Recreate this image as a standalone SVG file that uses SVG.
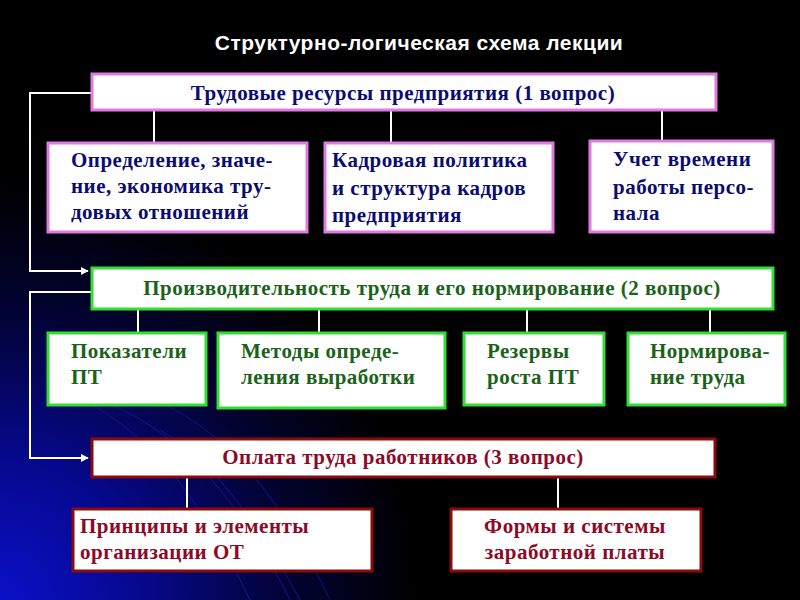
<svg xmlns="http://www.w3.org/2000/svg" width="800" height="600" viewBox="0 0 800 600">
<defs>
<radialGradient id="bg" cx="0" cy="600" r="420" gradientUnits="userSpaceOnUse">
<stop offset="0" stop-color="#0a10c8"/>
<stop offset="0.35" stop-color="#06088a"/>
<stop offset="0.7" stop-color="#020330"/>
<stop offset="1" stop-color="#000000"/>
</radialGradient>
<marker id="arr" viewBox="0 0 10 10" refX="9" refY="5" markerWidth="4" markerHeight="4" orient="auto" markerUnits="strokeWidth">
<path d="M0,0 L10,5 L0,10 z" fill="#ffffff"/>
</marker>
<style>
.t1,.t2,.t3{font-family:"Liberation Serif","Times New Roman",serif;font-weight:bold;font-size:21px;letter-spacing:0.5px}
.t1{fill:#0c0c70}
.t2{fill:#1a621a}
.t3{fill:#8c0a28}
.b1{fill:#ffffff;stroke:#e07ae0;stroke-width:3}
.b2{fill:#ffffff;stroke:#33dd33;stroke-width:3}
.b3{fill:#ffffff;stroke:#8b0a0a;stroke-width:3}
.c{fill:none;stroke:#ffffff;stroke-width:2}
</style>
</defs>
<rect width="800" height="600" fill="#000"/>
<rect width="800" height="600" fill="url(#bg)"/>
<g fill="none" stroke="#1a1aa0" stroke-width="1.2" opacity="0.6">
<path d="M60,390 Q170,430 250,600"/>
<path d="M100,400 Q210,440 290,600"/>
<path d="M140,395 Q250,430 330,600"/>
<path d="M160,430 Q230,470 300,600"/>
</g>
<text x="419" y="50" text-anchor="middle" font-family="Liberation Sans, Arial, sans-serif" font-weight="bold" font-size="21" letter-spacing="0.5" fill="#ffffff">Структурно-логическая схема лекции</text>
<g id="connectors">
<path class="c" d="M92,93 H30 V271 H88" marker-end="url(#arr)"/>
<path class="c" d="M92,292 H30 V458 H88" marker-end="url(#arr)"/>
<path class="c" d="M154,110 V143 M391,110 V143 M662,110 V141"/>
<path class="c" d="M138,309 V333 M319,309 V333 M527,309 V333 M710,309 V333"/>
<path class="c" d="M187,477 V509 M558,477 V509"/>
</g>
<g id="q1">
<rect class="b1" x="92" y="74" width="624" height="36"/>
<text class="t1" x="403" y="100" text-anchor="middle">Трудовые ресурсы предприятия (1 вопрос)</text>
</g>
<g id="q1a">
<rect class="b1" x="48" y="143" width="259" height="89"/>
<text class="t1" x="71" y="167">Определение, значе-</text>
<text class="t1" x="71" y="193">ние, экономика тру-</text>
<text class="t1" x="71" y="219">довых отношений</text>
</g>
<g id="q1b">
<rect class="b1" x="325" y="143" width="228" height="89"/>
<text class="t1" x="332" y="167">Кадровая политика</text>
<text class="t1" x="332" y="195">и структура кадров</text>
<text class="t1" x="332" y="222">предприятия</text>
</g>
<g id="q1c">
<rect class="b1" x="590" y="141" width="183" height="91"/>
<text class="t1" x="613" y="166">Учет времени</text>
<text class="t1" x="613" y="194">работы персо-</text>
<text class="t1" x="613" y="220">нала</text>
</g>
<g id="q2">
<rect class="b2" x="92" y="268" width="681" height="41"/>
<text class="t2" x="432" y="295" text-anchor="middle">Производительность труда и его нормирование (2 вопрос)</text>
</g>
<g id="q2a">
<rect class="b2" x="48" y="333" width="158" height="72"/>
<text class="t2" x="71" y="358">Показатели</text>
<text class="t2" x="71" y="384">ПТ</text>
</g>
<g id="q2b">
<rect class="b2" x="218" y="333" width="227" height="75"/>
<text class="t2" x="241" y="358">Методы опреде-</text>
<text class="t2" x="241" y="384">ления выработки</text>
</g>
<g id="q2c">
<rect class="b2" x="464" y="333" width="140" height="72"/>
<text class="t2" x="487" y="358">Резервы</text>
<text class="t2" x="487" y="384">роста ПТ</text>
</g>
<g id="q2d">
<rect class="b2" x="628" y="333" width="157" height="72"/>
<text class="t2" x="650" y="358">Нормирова-</text>
<text class="t2" x="650" y="384">ние труда</text>
</g>
<g id="q3">
<rect class="b3" x="92" y="439" width="623" height="38"/>
<text class="t3" x="403" y="464" text-anchor="middle">Оплата труда работников (3 вопрос)</text>
</g>
<g id="q3a">
<rect class="b3" x="73" y="509" width="299" height="62"/>
<text class="t3" x="80" y="533">Принципы и элементы</text>
<text class="t3" x="80" y="559">организации ОТ</text>
</g>
<g id="q3b">
<rect class="b3" x="451" y="509" width="250" height="62"/>
<text class="t3" x="575" y="533" text-anchor="middle">Формы и системы</text>
<text class="t3" x="575" y="559" text-anchor="middle">заработной платы</text>
</g>
</svg>
